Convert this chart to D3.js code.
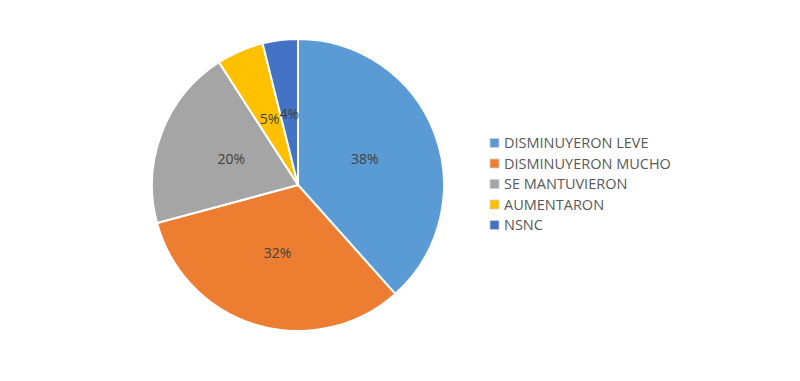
<!DOCTYPE html>
<html><head><meta charset="utf-8">
<script src="https://cdn.jsdelivr.net/npm/d3@7"></script>
<style>body{margin:0;background:#fff;}svg{display:block;}</style>
</head><body>
<svg id="c" width="800" height="381"></svg>
<script>
const categories = ["DISMINUYERON LEVE","DISMINUYERON MUCHO","SE MANTUVIERON","AUMENTARON","NSNC"];
const values = [38.4, 32.4, 20.1, 5.2, 3.9];
const labels = ["38%","32%","20%","5%","4%"];
const colors = ["#5B9BD5","#ED7D31","#A5A5A5","#FFC000","#4472C4"];

const svg = d3.select("#c");
const cx = 298, cy = 185, r = 146;
const g = svg.append("g").attr("transform", `translate(${cx},${cy})`);
const pie = d3.pie().sort(null).value(d => d)(values);
const arc = d3.arc().innerRadius(0).outerRadius(r);
const lab = d3.arc().innerRadius(r*0.49).outerRadius(r*0.49);
g.selectAll("path").data(pie).join("path")
  .attr("d", arc).attr("fill", (d,i)=>colors[i])
  .attr("stroke", "#fff").attr("stroke-width", 2);
g.selectAll("text").data(pie).join("text")
  .attr("transform", d => `translate(${lab.centroid(d)})`)
  .attr("text-anchor","middle").attr("dy","0.35em")
  .attr("font-family","Open Sans, Liberation Sans, sans-serif")
  .attr("font-size", 14).attr("fill","#404040")
  .text((d,i)=>labels[i]);

const lg = svg.append("g").attr("transform","translate(490,143)");
const row = lg.selectAll("g").data(categories).join("g")
  .attr("transform",(d,i)=>`translate(0,${i*20.5})`);
row.append("rect").attr("x",0).attr("y",-4.5).attr("width",9).attr("height",9)
  .attr("fill",(d,i)=>colors[i]).attr("stroke","#d0d0d0").attr("stroke-width",0.8);
row.append("text").attr("x",14).attr("dy","0.36em")
  .attr("font-family","Open Sans, Liberation Sans, sans-serif")
  .attr("font-size",14.5).attr("fill","#595959").text(d=>d);
</script>
</body></html>
